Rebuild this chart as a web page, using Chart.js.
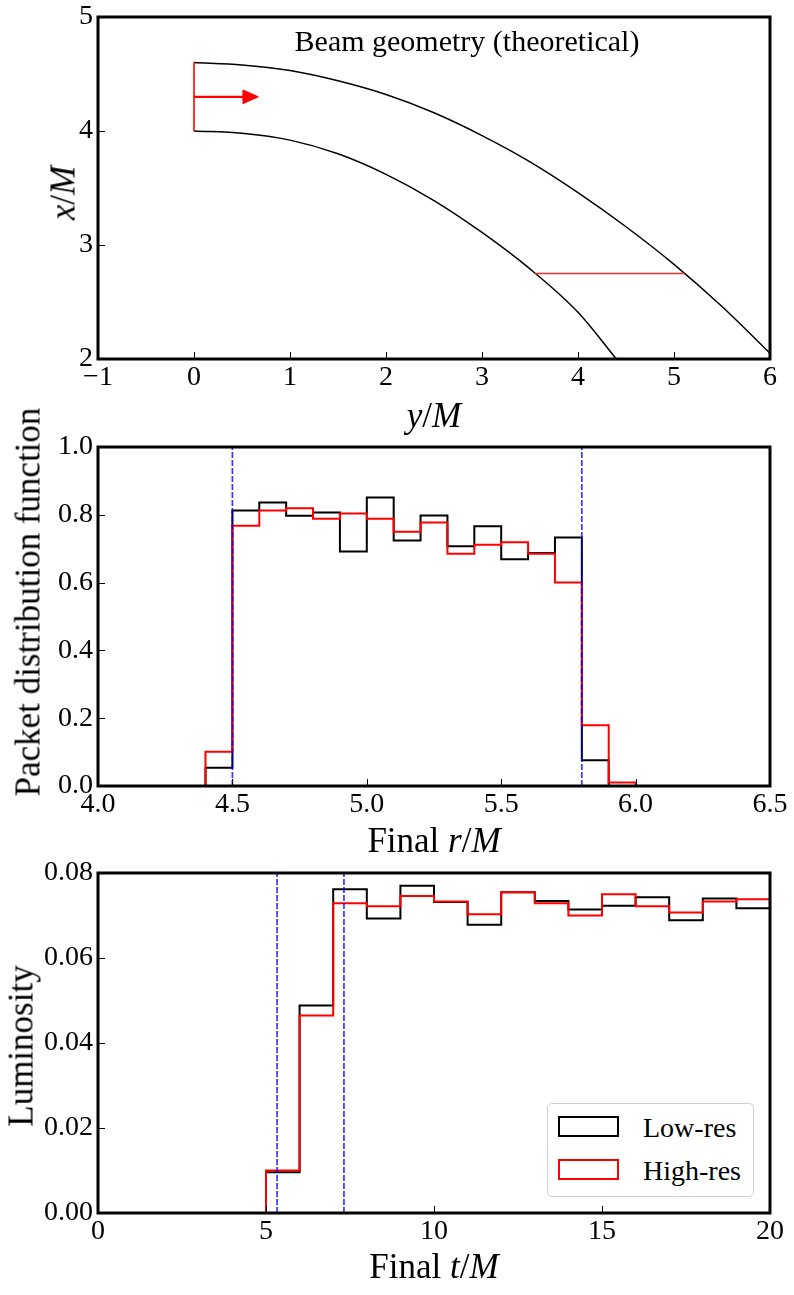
<!DOCTYPE html>
<html>
<head>
<meta charset="utf-8">
<script src="https://cdn.jsdelivr.net/npm/chart.js@4.4.1/dist/chart.umd.min.js"></script>
<style>
  html, body { margin:0; padding:0; background:#fff; }
  body { width:794px; height:1295px; position:relative; overflow:hidden; font-family:"Liberation Serif", serif; color:#000; }
  canvas { position:absolute; left:0; }
  .t { position:absolute; white-space:nowrap; line-height:1; font-family:"Liberation Serif", serif; color:#000; }
  .xt { font-size:35px; width:400px; text-align:center; }
  .yt { font-size:35px; transform:translate(-50%,-50%) rotate(-90deg); }
  #legend { position:absolute; left:547px; top:1103px; width:207px; height:94px; border:1px solid #d0d0d0; border-radius:5px; background:#fff; box-sizing:border-box; }
  .lg-item { position:absolute; left:0; height:24px; width:100%; }
  .lg-box { position:absolute; left:10px; width:61px; height:21px; box-sizing:border-box; border:2.5px solid #000; }
  .lg-text { position:absolute; left:95px; font-size:28px; line-height:1; top:-2px; }
</style>
</head>
<body>
<canvas id="c1" width="794" height="420" style="top:0px"></canvas>
<canvas id="c2" width="794" height="430" style="top:420px"></canvas>
<canvas id="c3" width="794" height="445" style="top:850px"></canvas>

<div class="t" style="left:267px; top:26px; width:400px; text-align:center; font-size:30px;">Beam geometry (theoretical)</div>
<div class="t xt" style="left:234px; top:398px;"><i>y</i>/<i>M</i></div>
<div class="t yt" style="left:63px; top:193px;"><i>x</i>/<i>M</i></div>

<div class="t xt" style="left:234px; top:823px;">Final <i>r</i>/<i>M</i></div>
<div class="t yt" style="left:28px; top:602px;">Packet distribution function</div>

<div class="t xt" style="left:234px; top:1249px;">Final <i>t</i>/<i>M</i></div>
<div class="t yt" style="left:21px; top:1046px;">Luminosity</div>

<div id="legend">
  <div class="lg-item" style="top:12px;"><div class="lg-box" style="border-color:#000;"></div><div class="lg-text">Low-res</div></div>
  <div class="lg-item" style="top:55px;"><div class="lg-box" style="border-color:#ff0000;"></div><div class="lg-text">High-res</div></div>
</div>

<script>
// ---------------- Panel 1: beam geometry ----------------
const outerBeamY = [0, 0.5, 1.0, 1.5, 2.0, 2.5, 3.0, 3.5, 4.0, 4.5, 5.0, 5.5, 6.0];
const outerBeamX = [4.6, 4.58, 4.53, 4.44, 4.32, 4.16, 3.96, 3.73, 3.46, 3.16, 2.83, 2.46, 2.05];
const innerBeamY = [0, 0.5, 1.0, 1.5, 2.0, 2.5, 3.0, 3.5, 4.0, 4.4];
const innerBeamX = [4.0, 3.98, 3.92, 3.80, 3.62, 3.39, 3.11, 2.79, 2.41, 2.0];
const launchLineY = [0, 0];
const launchLineX = [4.0, 4.6];
const arrowShaftY = [0, 0.52];
const arrowShaftX = [4.3, 4.3];
const arrowHeadY = [0.51, 0.67, 0.51, 0.51];
const arrowHeadX = [4.36, 4.30, 4.24, 4.36];
const exitLineY = [3.55, 5.11];
const exitLineX = [2.75, 2.75];
const p1XTicks = [-1, 0, 1, 2, 3, 4, 5, 6];
const p1YTicks = [2, 3, 4, 5];

// ---------------- Panel 2: final radius histogram ----------------
const rEdges = [4.4, 4.5, 4.6, 4.7, 4.8, 4.9, 5.0, 5.1, 5.2, 5.3, 5.4, 5.5, 5.6, 5.7, 5.8, 5.9, 6.0];
const rLowRes  = [0.054, 0.813, 0.836, 0.797, 0.807, 0.692, 0.851, 0.724, 0.798, 0.707, 0.766, 0.669, 0.687, 0.733, 0.076, 0.0];
const rHighRes = [0.101, 0.768, 0.813, 0.819, 0.788, 0.804, 0.788, 0.750, 0.777, 0.685, 0.712, 0.719, 0.685, 0.600, 0.179, 0.010];
const rMarkers = [4.5, 5.8];
const p2XTicks = [4.0, 4.5, 5.0, 5.5, 6.0, 6.5];
const p2YTicks = [0.0, 0.2, 0.4, 0.6, 0.8, 1.0];

// ---------------- Panel 3: luminosity vs final time ----------------
const tEdges = [5, 6, 7, 8, 9, 10, 11, 12, 13, 14, 15, 16, 17, 18, 19, 20];
const tLowRes  = [0.0096, 0.0488, 0.0762, 0.0693, 0.0770, 0.0732, 0.0678, 0.0755, 0.0734, 0.0714, 0.0723, 0.0743, 0.0689, 0.0740, 0.0717];
const tHighRes = [0.0100, 0.0465, 0.0729, 0.0722, 0.0746, 0.0733, 0.0703, 0.0755, 0.0729, 0.0700, 0.0750, 0.0722, 0.0707, 0.0733, 0.0738];
const tMarkers = [5.33, 7.32];
const p3XTicks = [0, 5, 10, 15, 20];
const p3YTicks = [0.00, 0.02, 0.04, 0.06, 0.08];

// ---------------- helpers ----------------
const FONT = "'Liberation Serif', serif";
const BLUE = 'rgba(0,0,255,0.78)';
const zip = (xs, ys) => xs.map((x, i) => ({ x: x, y: ys[i] }));
function stepPoints(edges, vals) {
  const pts = [{ x: edges[0], y: 0 }];
  vals.forEach((v, i) => pts.push({ x: edges[i], y: v }));
  pts.push({ x: edges[edges.length - 1], y: 0 });
  return pts;
}
function vline(x, y0, y1) { return [{ x: x, y: y0 }, { x: x, y: y1 }]; }

const frameTicks = {
  id: 'frameTicks',
  afterDraw(chart) {
    const ctx = chart.ctx, a = chart.chartArea;
    const xs = chart.scales.x, ys = chart.scales.y;
    ctx.save();
    ctx.strokeStyle = '#000';
    ctx.lineWidth = 1;
    ctx.beginPath();
    xs.ticks.forEach(t => {
      const px = Math.round(xs.getPixelForValue(t.value)) + 0.5;
      ctx.moveTo(px, a.bottom); ctx.lineTo(px, a.bottom - 7);
    });
    ys.ticks.forEach(t => {
      const py = Math.round(ys.getPixelForValue(t.value)) + 0.5;
      ctx.moveTo(a.left, py); ctx.lineTo(a.left + 7, py);
    });
    ctx.stroke();
    ctx.lineWidth = 3;
    ctx.strokeRect(a.left, a.top, a.right - a.left, a.bottom - a.top);
    ctx.restore();
  }
};

function makeChart(id, datasets, cfg) {
  return new Chart(document.getElementById(id), {
    type: 'line',
    data: { datasets: datasets },
    options: {
      responsive: false,
      animation: false,
      devicePixelRatio: 1,
      events: [],
      layout: { padding: { top: cfg.padTop, right: 24, left: 0, bottom: 0 } },
      plugins: { legend: { display: false }, tooltip: { enabled: false }, title: { display: false } },
      elements: { point: { radius: 0 }, line: { tension: 0 } },
      scales: {
        x: {
          type: 'linear', min: cfg.xMin, max: cfg.xMax,
          grid: { display: false, drawTicks: false },
          border: { display: false },
          afterBuildTicks: s => { s.ticks = cfg.xTicks.map(v => ({ value: v })); },
          afterFit: s => { s.height = cfg.xHeight; s.paddingLeft = 0; s.paddingRight = 0; },
          ticks: { padding: 2, maxRotation: 0, autoSkip: false, color: '#000',
                   font: { family: FONT, size: 28 }, callback: cfg.xFmt }
        },
        y: {
          type: 'linear', min: cfg.yMin, max: cfg.yMax,
          grid: { display: false, drawTicks: false },
          border: { display: false },
          afterBuildTicks: s => { s.ticks = cfg.yTicks.map(v => ({ value: v })); },
          afterFit: s => { s.width = 98; s.paddingTop = 0; s.paddingBottom = 0; },
          ticks: { padding: 5, autoSkip: false, color: '#000',
                   font: { family: FONT, size: 28 }, callback: cfg.yFmt }
        }
      }
    },
    plugins: [frameTicks]
  });
}

const minusFmt = v => (v < 0 ? '\u2212' + Math.abs(v) : String(v));

// Panel 1
makeChart('c1', [
  { data: zip(launchLineY, launchLineX), borderColor: '#ff0000', borderWidth: 1.6, fill: false },
  { data: zip(arrowShaftY, arrowShaftX), borderColor: '#ff0000', borderWidth: 2.2, fill: false },
  { data: zip(arrowHeadY, arrowHeadX), borderColor: '#ff0000', backgroundColor: '#ff0000', borderWidth: 1, fill: 'shape' },
  { data: zip(exitLineY, exitLineX), borderColor: '#ff2a2a', borderWidth: 1.6, fill: false },
  { data: zip(outerBeamY, outerBeamX), borderColor: '#000', borderWidth: 1.5, fill: false, cubicInterpolationMode: 'monotone' },
  { data: zip(innerBeamY, innerBeamX), borderColor: '#000', borderWidth: 1.5, fill: false, cubicInterpolationMode: 'monotone' }
], { padTop: 17, xHeight: 61, xMin: -1, xMax: 6, yMin: 2, yMax: 5,
     xTicks: p1XTicks, yTicks: p1YTicks, xFmt: minusFmt, yFmt: v => String(v) });

// Panel 2
makeChart('c2', [
  ...rMarkers.map(m => ({ data: vline(m, 0, 1), borderColor: BLUE, borderWidth: 1.7, borderDash: [6, 2], fill: false })),
  { data: stepPoints(rEdges, rHighRes), borderColor: '#ff0000', borderWidth: 2, stepped: 'before', fill: false },
  { data: stepPoints(rEdges, rLowRes), borderColor: '#000', borderWidth: 2, stepped: 'before', fill: false }
], { padTop: 27, xHeight: 64, xMin: 4.0, xMax: 6.5, yMin: 0, yMax: 1.0,
     xTicks: p2XTicks, yTicks: p2YTicks, xFmt: v => Number(v).toFixed(1), yFmt: v => Number(v).toFixed(1) });

// Panel 3
makeChart('c3', [
  ...tMarkers.map(m => ({ data: vline(m, 0, 0.08), borderColor: BLUE, borderWidth: 1.7, borderDash: [6, 2], fill: false })),
  { data: stepPoints(tEdges, tHighRes), borderColor: '#ff0000', borderWidth: 2, stepped: 'before', fill: false },
  { data: stepPoints(tEdges, tLowRes), borderColor: '#000', borderWidth: 2, stepped: 'before', fill: false }
], { padTop: 23, xHeight: 82, xMin: 0, xMax: 20, yMin: 0, yMax: 0.08,
     xTicks: p3XTicks, yTicks: p3YTicks, xFmt: v => String(v), yFmt: v => Number(v).toFixed(2) });
</script>
</body>
</html>
